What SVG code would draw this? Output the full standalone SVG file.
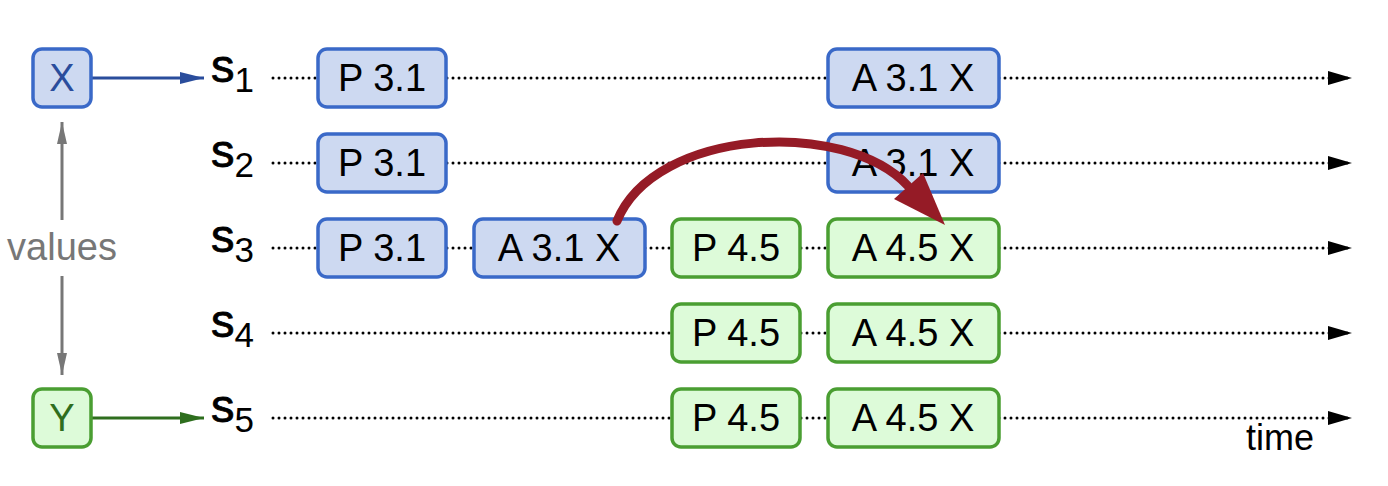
<svg xmlns="http://www.w3.org/2000/svg" width="1388" height="486" viewBox="0 0 1388 486">
<style>
.bb{fill:#cdd9f1;stroke:#3a69c8;stroke-width:3.5}
.gb{fill:#ddfbd9;stroke:#4a9e32;stroke-width:3.5}
.t{font-family:"Liberation Sans",Arial,sans-serif;font-size:38px;fill:#000;text-anchor:middle}
.s{font-family:"Liberation Sans",Arial,sans-serif;font-size:47px;fill:#000;stroke:#000;stroke-width:0.8}
.sub{font-size:35px;stroke-width:0}
.dot{stroke:#000;stroke-width:3;stroke-dasharray:0 6;stroke-linecap:round;fill:none}
</style>
<defs>
<marker id="ah" markerUnits="userSpaceOnUse" markerWidth="26" markerHeight="16" refX="24" refY="7" orient="auto">
<path d="M0,0 L24,7 L0,14 Z" fill="#000"/>
</marker>
<marker id="ab" markerUnits="userSpaceOnUse" markerWidth="26" markerHeight="14" refX="24" refY="6" orient="auto">
<path d="M0,0 L24,6 L0,12 Z" fill="#2a4d9c"/>
</marker>
<marker id="ag" markerUnits="userSpaceOnUse" markerWidth="26" markerHeight="14" refX="24" refY="6" orient="auto">
<path d="M0,0 L24,6 L0,12 Z" fill="#2e6e1e"/>
</marker>
<marker id="agr" markerUnits="userSpaceOnUse" markerWidth="24" markerHeight="12" refX="22" refY="5" orient="auto">
<path d="M0,0 L22,5 L0,10 Z" fill="#777"/>
</marker>
</defs>

<g id="connectors">
<line class="dot" x1="273" y1="78" x2="1352" y2="78" marker-end="url(#ah)"/>
<line class="dot" x1="273" y1="163" x2="1352" y2="163" marker-end="url(#ah)"/>
<line class="dot" x1="273" y1="248" x2="1352" y2="248" marker-end="url(#ah)"/>
<line class="dot" x1="273" y1="333" x2="1352" y2="333" marker-end="url(#ah)"/>
<line class="dot" x1="273" y1="418" x2="1352" y2="418" marker-end="url(#ah)"/>
<line x1="92" y1="78" x2="204" y2="78" stroke="#2a4d9c" stroke-width="3" marker-end="url(#ab)"/>
<line x1="92" y1="418" x2="204" y2="418" stroke="#2e6e1e" stroke-width="3" marker-end="url(#ag)"/>
<line x1="62" y1="220" x2="62" y2="122" stroke="#777" stroke-width="3" marker-end="url(#agr)"/>
<line x1="62" y1="276" x2="62" y2="375" stroke="#777" stroke-width="3" marker-end="url(#agr)"/>
</g>

<g id="labels">
<text class="s" x="211" y="82">s<tspan class="sub" dy="10">1</tspan></text>
<text class="s" x="211" y="167">s<tspan class="sub" dy="10">2</tspan></text>
<text class="s" x="211" y="252">s<tspan class="sub" dy="10">3</tspan></text>
<text class="s" x="211" y="337">s<tspan class="sub" dy="10">4</tspan></text>
<text class="s" x="211" y="422">s<tspan class="sub" dy="10">5</tspan></text>
<text class="t" x="62" y="260" style="fill:#777">values</text>
<text class="t" x="1280" y="450" style="font-size:36px">time</text>
</g>

<g id="nodeX"><rect class="bb" x="33" y="49" width="58" height="58" rx="9"/><text class="t" x="62" y="91" style="fill:#2a4d9c">X</text></g>
<g id="nodeY"><rect class="gb" x="33" y="389" width="58" height="58" rx="9"/><text class="t" x="62" y="431" style="fill:#2e6e1e">Y</text></g>

<g id="s1P"><rect class="bb" x="318" y="49" width="128" height="58" rx="9"/><text class="t" x="382" y="91">P 3.1</text></g>
<g id="s1A"><rect class="bb" x="828" y="49" width="171" height="58" rx="9"/><text class="t" x="913" y="91">A 3.1 X</text></g>

<g id="s2P"><rect class="bb" x="318" y="134" width="128" height="58" rx="9"/><text class="t" x="382" y="176">P 3.1</text></g>
<g id="s2A"><rect class="bb" x="828" y="134" width="171" height="58" rx="9"/><text class="t" x="913" y="176">A 3.1 X</text></g>

<g id="s3P"><rect class="bb" x="318" y="219" width="128" height="58" rx="9"/><text class="t" x="382" y="261">P 3.1</text></g>
<g id="s3A"><rect class="bb" x="474" y="219" width="171" height="58" rx="9"/><text class="t" x="559" y="261">A 3.1 X</text></g>
<g id="s3P2"><rect class="gb" x="672" y="219" width="128" height="58" rx="9"/><text class="t" x="736" y="261">P 4.5</text></g>
<g id="s3A2"><rect class="gb" x="828" y="219" width="171" height="58" rx="9"/><text class="t" x="913" y="261">A 4.5 X</text></g>

<g id="s4P"><rect class="gb" x="672" y="304" width="128" height="58" rx="9"/><text class="t" x="736" y="346">P 4.5</text></g>
<g id="s4A"><rect class="gb" x="828" y="304" width="171" height="58" rx="9"/><text class="t" x="913" y="346">A 4.5 X</text></g>

<g id="s5P"><rect class="gb" x="672" y="389" width="128" height="58" rx="9"/><text class="t" x="736" y="431">P 4.5</text></g>
<g id="s5A"><rect class="gb" x="828" y="389" width="171" height="58" rx="9"/><text class="t" x="913" y="431">A 4.5 X</text></g>

<g id="transfer">
<path d="M617,221 C655,128 845,118 908,186" fill="none" stroke="#951b26" stroke-width="9" stroke-linecap="round"/>
<polygon points="945,225 894,199 923,173" fill="#951b26"/>
</g>
</svg>
